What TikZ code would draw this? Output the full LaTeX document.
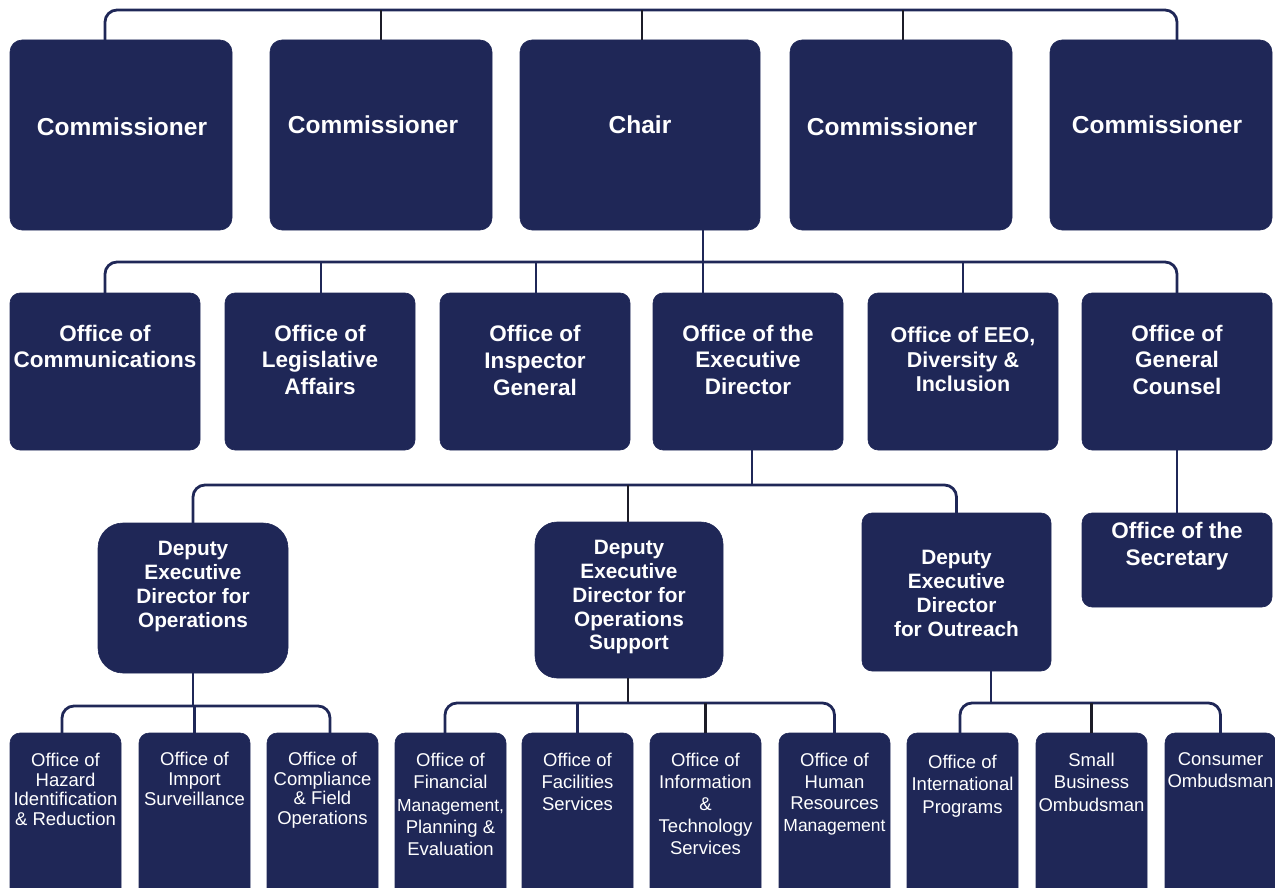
\documentclass[tikz,border=0pt]{standalone}
\usepackage{fontspec}
\setmainfont{Liberation Sans}
\definecolor{navy}{HTML}{1F2757}
\definecolor{ink}{HTML}{1C1C28}
\newcommand{\myfs}[2]{\fontsize{#1pt}{#2pt}\selectfont}
\newcommand{\bx}[4]{\parbox[t][#2pt][t]{#1pt}{\centering\vspace*{#3pt}#4}}
\tikzset{
  box/.style={fill=navy, draw=navy, line width=0.6pt, inner sep=0pt, outer sep=0pt,
              rounded corners=10pt, text=white, anchor=north west},
  conn/.style={draw=navy, line width=2.8pt, rounded corners=12pt},
  dk/.style={draw=ink, line width=2.8pt},
}
\begin{document}
\begin{tikzpicture}[x=1pt,y=-1pt]
\useasboundingbox (0,0) rectangle (1275,888);
\clip (0,0) rectangle (1275,888);
% ---- row 1
\node[box, rounded corners=12pt] (c1) at (10,40) {\bx{222}{190}{78}{\myfs{24.5}{28}\bfseries \hspace*{2pt}Commissioner}};
\node[box, rounded corners=12pt] (c2) at (270,40) {\bx{222}{190}{76}{\myfs{24.5}{28}\bfseries \hspace*{-16pt}Commissioner}};
\node[box, rounded corners=12pt] (chair) at (520,40) {\bx{240}{190}{76}{\myfs{24.5}{28}\bfseries Chair}};
\node[box, rounded corners=12pt] (c4) at (790,40) {\bx{222}{190}{78}{\myfs{24.5}{28}\bfseries \hspace*{-18pt}Commissioner}};
\node[box, rounded corners=12pt] (c5) at (1050,40) {\bx{222}{190}{76}{\myfs{24.5}{28}\bfseries \hspace*{-8pt}Commissioner}};
% ---- row 2
\node[box] (comm) at (10,293) {\bx{190}{157}{31.7}{\myfs{22.5}{26.5}\bfseries Office of\\Communications}};
\node[box] (leg) at (225,293) {\bx{190}{157}{31.7}{\myfs{22.5}{26.5}\bfseries Office of\\Legislative\\Affairs}};
\node[box] (ig) at (440,293) {\bx{190}{157}{31.7}{\myfs{22.5}{27}\bfseries Office of\\Inspector\\General}};
\node[box] (ed) at (653,293) {\bx{190}{157}{31.7}{\myfs{22.5}{26.5}\bfseries Office of the\\Executive\\Director}};
\node[box] (eeo) at (868,293) {\bx{190}{157}{34}{\myfs{21.5}{24.5}\bfseries Office of EEO,\\Diversity \&\\Inclusion}};
\node[box] (gc) at (1082,293) {\bx{190}{157}{31.7}{\myfs{22.5}{26.5}\bfseries Office of\\General\\Counsel}};
% ---- row 3
\node[box, rounded corners=25pt] (dedops) at (98,523) {\bx{190}{150}{18.3}{\myfs{20.8}{24}\bfseries Deputy\\Executive\\Director for\\Operations}};
\node[box, rounded corners=22pt] (dedsup) at (535,522) {\bx{188}{156}{18.3}{\myfs{20.8}{23.8}\bfseries Deputy\\Executive\\Director for\\Operations\\Support}};
\node[box] (dedout) at (862,513) {\bx{189}{158}{37}{\myfs{20.8}{24}\bfseries Deputy\\Executive\\Director\\for Outreach}};
\node[box] (sec) at (1082,513) {\bx{190}{94}{8.7}{\myfs{22.5}{27}\bfseries Office of the\\Secretary}};
% ---- row 4
\node[box] (b1) at (10,733) {\bx{111}{170}{20}{\myfs{18.5}{19.6}Office of\\Hazard\\Identification\\\& Reduction}};
\node[box] (b2) at (139,733) {\bx{111}{170}{19}{\myfs{18.5}{19.8}Office of\\Import\\Surveillance}};
\node[box] (b3) at (267,733) {\bx{111}{170}{19}{\myfs{18.5}{19.6}Office of\\Compliance\\\& Field\\Operations}};
\node[box] (b4) at (395,733) {\bx{111}{170}{20}{\myfs{18.5}{22.3}Office of\\Financial\\{\myfs{17.5}{22.3}Management,}\\Planning \&\\Evaluation}};
\node[box] (b5) at (522,733) {\bx{111}{170}{20}{\myfs{18.5}{22}Office of\\Facilities\\Services}};
\node[box] (b6) at (650,733) {\bx{111}{170}{20}{\myfs{18.5}{22}Office of\\Information\\\&\\Technology\\Services}};
\node[box] (b7) at (779,733) {\bx{111}{170}{20}{\myfs{18.5}{21.7}Office of\\Human\\Resources\\{\myfs{17.5}{21.7}Management}}};
\node[box] (b8) at (907,733) {\bx{111}{170}{22}{\myfs{18.5}{22.5}Office of\\International\\Programs}};
\node[box] (b9) at (1036,733) {\bx{111}{170}{20}{\myfs{18.5}{22.5}Small\\Business\\Ombudsman}};
\node[box] (b10) at (1165,733) {\bx{111}{170}{20}{\myfs{18.5}{22}Consumer\\Ombudsman}};
% ---- connectors row 1
\draw[conn] ([xshift=-16pt]c1.north) -- ++(0,-30) -| ([xshift=16pt]c5.north);
\draw[dk] (c2.north) -- ++(0,-30);
\draw[dk] ([xshift=2pt]chair.north) -- ++(0,-30);
\draw[dk] ([xshift=2pt]c4.north) -- ++(0,-30);
% ---- connectors row 2
\draw[conn] (comm.north) -- ++(0,-31) -| (gc.north);
\draw[conn] ([xshift=1pt]leg.north) -- ++(0,-31);
\draw[conn] ([xshift=1pt]ig.north) -- ++(0,-31);
\draw[conn] (eeo.north) -- ++(0,-31);
\draw[conn] ([xshift=63pt]chair.south) -- ([xshift=-45pt]ed.north);
% ---- connectors row 3
\draw[conn] ([xshift=4pt]ed.south) -- ++(0,35);
\draw[conn] (dedops.north) -- ++(0,-38) -| (dedout.north);
\draw[dk] ([xshift=-1pt]dedsup.north) -- ++(0,-37);
\draw[conn] (gc.south) -- (sec.north);
% ---- connectors row 4
\draw[conn] (dedops.south) -- ++(0,33);
\draw[conn] ([xshift=-3.5pt]b1.north) -- ++(0,-27) -| ([xshift=7.5pt]b3.north);
\draw[conn] (b2.north) -- ++(0,-27);
\draw[dk] ([xshift=-1pt]dedsup.south) -- ++(0,25);
\draw[conn] ([xshift=-5.5pt]b4.north) -- ++(0,-30) -| (b7.north);
\draw[conn] (b5.north) -- ++(0,-30);
\draw[dk] (b6.north) -- ++(0,-30);
\draw[conn] ([xshift=34.5pt]dedout.south) -- ++(0,32);
\draw[conn] ([xshift=-2.5pt]b8.north) -- ++(0,-30) -| (b10.north);
\draw[dk] (b9.north) -- ++(0,-30);
\end{tikzpicture}
\end{document}
